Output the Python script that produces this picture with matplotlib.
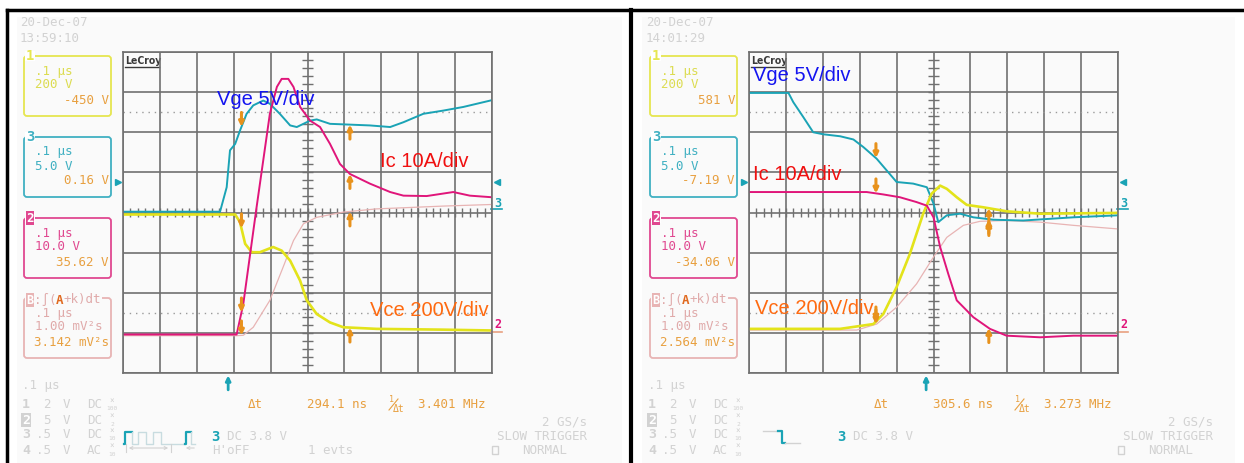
import matplotlib.pyplot as plt
import numpy as np
from matplotlib.patches import FancyBboxPatch, Rectangle

# ---- data (x in divisions of 0.1 us, y in screen divisions) ----
# turn-on screen (left)
on_vge_x = [0, 2.63, 2.81, 2.90, 3.04, 3.17, 3.35, 3.53, 3.80, 3.98, 4.25, 4.53, 4.71, 5.07, 5.25, 5.61, 6.15, 6.69, 7.24, 7.60, 8.14, 8.68, 9.22, 10.0]
on_vge_y = [0.02, 0.02, 0.63, 1.55, 1.71, 2.04, 2.46, 2.67, 2.79, 2.71, 2.46, 2.17, 2.13, 2.29, 2.32, 2.21, 2.19, 2.17, 2.13, 2.25, 2.46, 2.54, 2.63, 2.80]
on_ic_x = [0, 3.08, 3.26, 3.62, 3.98, 4.17, 4.30, 4.48, 4.62, 4.80, 5.07, 5.34, 5.61, 5.88, 6.15, 6.69, 7.24, 7.60, 8.23, 8.95, 9.40, 10.0]
on_ic_y = [-3.04, -3.04, -2.28, 0.13, 2.46, 3.13, 3.33, 3.33, 3.13, 2.63, 2.29, 2.13, 1.71, 1.21, 0.96, 0.72, 0.51, 0.42, 0.41, 0.51, 0.42, 0.38]
on_vce_x = [0, 3.04, 3.17, 3.31, 3.49, 3.71, 4.07, 4.30, 4.53, 4.80, 4.98, 5.25, 5.61, 5.97, 6.87, 8.68, 10.0]
on_vce_y = [-0.05, -0.05, -0.24, -0.78, -0.99, -0.99, -0.86, -0.95, -1.20, -1.70, -2.19, -2.53, -2.74, -2.86, -2.90, -2.92, -2.94]
on_e_x = [0, 3.08, 3.26, 3.53, 3.98, 4.34, 4.62, 4.89, 5.25, 5.97, 6.87, 8.68, 10.0]
on_e_y = [-3.07, -3.07, -3.06, -2.86, -2.19, -1.36, -0.70, -0.28, -0.12, 0.01, 0.09, 0.16, 0.20]

# turn-off screen (right)
off_vge_x = [0, 1.07, 1.20, 1.47, 1.74, 2.01, 2.47, 2.83, 3.10, 3.46, 3.73, 4.00, 4.45, 4.82, 5.00, 5.13, 5.36, 5.72, 6.08, 6.62, 7.43, 8.79, 10.0]
off_vge_y = [2.98, 2.98, 2.75, 2.38, 2.00, 1.95, 1.90, 1.82, 1.63, 1.34, 1.05, 0.76, 0.72, 0.63, 0.22, -0.24, -0.07, -0.03, -0.12, -0.18, -0.20, -0.12, -0.07]
off_ic_x = [0, 3.19, 3.64, 4.09, 4.54, 4.82, 5.00, 5.18, 5.40, 5.63, 6.08, 6.53, 6.98, 7.89, 8.79, 10.0]
off_ic_y = [0.51, 0.51, 0.45, 0.38, 0.26, 0.17, -0.12, -0.86, -1.53, -2.19, -2.61, -2.90, -3.07, -3.11, -3.07, -3.07]
off_vce_x = [0, 2.47, 3.37, 3.64, 4.00, 4.36, 4.72, 4.95, 5.18, 5.36, 5.63, 5.90, 6.35, 6.98, 7.89, 10.0]
off_vce_y = [-2.90, -2.90, -2.78, -2.53, -1.86, -1.03, -0.03, 0.47, 0.67, 0.59, 0.38, 0.19, 0.13, 0.03, -0.03, -0.01]
off_e_x = [0, 2.92, 3.46, 4.00, 4.54, 5.00, 5.36, 5.81, 6.26, 6.98, 7.89, 8.79, 10.0]
off_e_y = [-2.93, -2.93, -2.78, -2.36, -1.78, -1.11, -0.62, -0.32, -0.22, -0.20, -0.24, -0.32, -0.41]

on_cursors = [3.21, 6.15]
off_cursors = [3.44, 6.50]
on_trigger = 2.85
off_trigger = 4.80
trig_level = 0.75

on_time = ['20-Dec-07', '13:59:10']
off_time = ['20-Dec-07', '14:01:29']
on_values = ['-450 V', '0.16 V', '35.62 V', '3.142 mV²s']
off_values = ['581 V', '-7.19 V', '-34.06 V', '2.564 mV²s']
on_dt = ['294.1 ns', '3.401 MHz']
off_dt = ['305.6 ns', '3.273 MHz']
ch_setup = [('1', '2', 'DC', '100'), ('2', '5', 'DC', '2'), ('3', '.5', 'DC', '10'), ('4', '.5', 'AC', '10')]

# labels: (text, x, y, colour) in divisions
on_labels = [('Vge 5V/div', 2.54, 2.68, '#1414F0'), ('Ic 10A/div', 6.96, 1.13, '#F01010'), ('Vce 200V/div', 6.69, -2.57, '#FF6A10')]
off_labels = [('Vge 5V/div', 0.11, 3.27, '#1414F0'), ('Ic 10A/div', 0.11, 0.82, '#F01010'), ('Vce 200V/div', 0.16, -2.54, '#FF6A10')]

# colours
C_VGE = '#1AA3B5'
C_IC = '#E0157A'
C_VCE = '#E3E31A'
C_E = '#E8B4B4'
C_ORG = '#E8A040'
C_ARR = '#E8921C'
C_GRAY = '#D2D2D2'
C_GRID = '#707070'
MONO = 'DejaVu Sans Mono'

W, H = 1244, 463
fig = plt.figure(figsize=(W / 100, H / 100), dpi=100)
bg = fig.add_axes([0, 0, 1, 1])
bg.set_xlim(0, W)
bg.set_ylim(H, 0)
bg.axis('off')

# screens and black frame
bg.add_patch(Rectangle((17, 17), 605, 446, fc='#FAFAFA', ec='none'))
bg.add_patch(Rectangle((642, 17), 593, 446, fc='#FAFAFA', ec='none'))
bg.plot([7, W], [10, 10], color='k', lw=2.5)
bg.plot([7, 7], [10, H], color='k', lw=2.5)
bg.plot([631, 631], [10, H], color='k', lw=3)


def txt(x, y, s, color=C_GRAY, size=9, **kw):
    kw.setdefault('ha', 'left')
    kw.setdefault('va', 'center')
    bg.text(x, y, s, color=color, fontsize=size, family=MONO, **kw)


def readout_box(dx, top, ec, label, lines, tcol, value, inverted=False):
    bg.add_patch(FancyBboxPatch((dx + 27, top + 3), 81, 54, boxstyle='round,pad=3',
                                ec=ec, fc='none', lw=1.3))
    if label is not None:
        bg.add_patch(Rectangle((dx + 25, top - 5), 10, 10, fc='white', ec='none'))
        if inverted:
            bg.text(dx + 30, top, label, color='white', fontsize=9, family=MONO,
                    weight='bold', ha='center', va='center',
                    bbox=dict(boxstyle='square,pad=0.05', fc=ec, ec='none'))
        else:
            bg.text(dx + 30, top, label, color=ec, fontsize=10, family=MONO,
                    weight='bold', ha='center', va='center')
    txt(dx + 35, top + 15, lines[0], tcol)
    txt(dx + 35, top + 29, lines[1], tcol)
    txt(dx + 109, top + 44, value, C_ORG, ha='right')


def draw_panel(dx, traces, cursors, trigger, labels, stamp, values, dt, left_pulse):
    ax = fig.add_axes([(123 + dx) / W, (H - 373) / H, 369 / W, 321 / H])
    ax.patch.set_alpha(0)
    ax.set_xlim(0, 10)
    ax.set_ylim(-4, 4)
    ax.set_xticks(np.arange(11))
    ax.set_yticks(np.arange(-4, 5))
    ax.tick_params(length=0, labelbottom=False, labelleft=False)
    ax.grid(True, color=C_GRID, lw=1.2)
    for sp in ax.spines.values():
        sp.set_color(C_GRID)
        sp.set_linewidth(1.2)
    # centre cross ticks and reference dotted lines
    ax.vlines(np.arange(0.2, 10, 0.2), -0.1, 0.1, color=C_GRID, lw=1)
    ax.hlines(np.arange(-3.8, 4, 0.2), 4.86, 5.14, color=C_GRID, lw=1)
    for yy in (2.5, -2.5):
        ax.axhline(yy, color='#9A9A9A', lw=1, ls=(0, (1, 3.5)))

    # traces
    for (xs, ys), col, lw in zip(traces, [C_E, C_VGE, C_VCE, C_IC], [0.9, 1.4, 1.9, 1.4]):
        ax.plot(xs, ys, color=col, lw=lw, solid_joinstyle='round')

    # cursor arrows on each trace
    for i, cx in enumerate(cursors):
        for xs, ys in traces:
            yv = np.interp(cx, xs, ys)
            tail = yv + 0.36 if i == 0 else yv - 0.36
            ax.annotate('', xy=(cx, yv), xytext=(cx, tail),
                        arrowprops=dict(arrowstyle='-|>', color=C_ARR, lw=2.2,
                                        mutation_scale=7, shrinkA=0, shrinkB=0))

    # trigger markers
    ax.annotate('', xy=(trigger, -4.06), xytext=(trigger, -4.42), annotation_clip=False,
                arrowprops=dict(arrowstyle='-|>', color=C_VGE, lw=2, mutation_scale=7,
                                shrinkA=0, shrinkB=0))
    ax.plot(-0.13, trig_level, marker='>', ms=5, color=C_VGE, clip_on=False)
    ax.plot(10.13, trig_level, marker='<', ms=5, color=C_VGE, clip_on=False)
    ax.text(10.16, 0.22, '3', color=C_VGE, fontsize=8.5, family=MONO, weight='bold',
            ha='center', va='center', clip_on=False)
    ax.plot([9.98, 10.28], [0.08, 0.08], color=C_VGE, lw=1.2, clip_on=False)
    ax.text(10.16, -2.78, '2', color=C_IC, fontsize=8.5, family=MONO, weight='bold',
            ha='center', va='center', clip_on=False)
    ax.plot([9.98, 10.28], [-2.97, -2.97], color='#E8A080', lw=1.2, clip_on=False)

    # trace labels
    for s, x, y, col in labels:
        ax.text(x, y, s, color=col, fontsize=14.5, family='Liberation Sans',
                va='baseline', ha='left', clip_on=False)

    # LeCroy logo
    bg.text(dx + 125, 61, 'LeCroy', color='#3A3A3A', fontsize=7.5, family='DejaVu Sans',
            fontstretch='condensed', weight='bold', ha='left', va='center')
    bg.plot([dx + 125, dx + 159], [67, 67], color='#3A3A3A', lw=1)

    # date / time
    txt(dx + 20, 23, stamp[0])
    txt(dx + 20, 38, stamp[1])

    # channel readout boxes
    readout_box(dx, 56, '#E6E650', '1', ['.1 μs', '200 V'], '#DCDC50', values[0])
    readout_box(dx, 137, '#40B0C2', '3', ['.1 μs', '5.0 V'], '#40B0C2', values[1])
    readout_box(dx, 218, '#E04890', '2', ['.1 μs', '10.0 V'], '#E04890', values[2], inverted=True)
    readout_box(dx, 298, C_E, None, ['.1 μs', '1.00 mV²s'], '#E0AAAA', values[3])
    bg.add_patch(Rectangle((dx + 25, 293), 77, 13, fc='#FAFAFA', ec='none'))
    bg.text(dx + 30, 300, 'B', color='white', fontsize=8.5, family=MONO, weight='bold',
            ha='center', va='center', bbox=dict(boxstyle='square,pad=0.05', fc=C_E, ec='none'))
    txt(dx + 34, 300, ':∫(', '#E0AAAA')
    txt(dx + 56, 300, 'A', '#E06A20', weight='bold')
    txt(dx + 63, 300, '+k)dt', '#E0AAAA')

    # bottom channel settings
    txt(dx + 22, 385, '.1 μs')
    for i, (num, val, cpl, att) in enumerate(ch_setup):
        y = 405 + 15 * i
        if i == 1:
            bg.text(dx + 26, y, num, color='white', fontsize=9.5, family=MONO, weight='bold',
                    ha='center', va='center',
                    bbox=dict(boxstyle='square,pad=0.05', fc=C_GRAY, ec='none'))
        else:
            txt(dx + 26, y, num, size=9.5, ha='center', weight='bold')
        txt(dx + 51, y, val, ha='right')
        txt(dx + 63, y, 'V')
        txt(dx + 87, y, cpl)
        txt(dx + 112, y - 4, '×', size=5.5, ha='center')
        txt(dx + 112, y + 4, att, size=4.5, ha='center')

    # delta-t readout
    txt(dx + 248, 405, 'Δt', C_ORG)
    txt(dx + 307, 405, dt[0], C_ORG)
    txt(dx + 389, 400, '1', C_ORG, size=6)
    bg.plot([dx + 389, dx + 398], [410, 399], color=C_ORG, lw=0.8)
    txt(dx + 393, 409, 'Δt', C_ORG, size=7)
    txt(dx + 418, 405, dt[1], C_ORG)
    txt(dx + 587, 422, '2 GS/s', ha='right')
    txt(dx + 587, 436, 'SLOW TRIGGER', ha='right')
    bg.add_patch(Rectangle((dx + 492, 446), 6, 8, fc='none', ec=C_GRAY, lw=1))
    txt(dx + 522, 450, 'NORMAL')

    # trigger pattern
    if left_pulse:
        bg.plot([124, 125, 125, 132], [444, 444, 432, 432], color=C_VGE, lw=1.6)
        bg.plot([132, 132, 138, 138, 146, 146, 153, 153, 161, 161, 185],
                [432, 444, 444, 432, 432, 444, 444, 432, 432, 444, 444], color='#C8DCE0', lw=1)
        bg.plot([185, 186, 186, 191], [444, 444, 432, 432], color=C_VGE, lw=1.6)
        bg.plot([191, 191, 195], [432, 444, 444], color='#C8DCE0', lw=1)
        bg.annotate('', xy=(126, 448), xytext=(171, 448),
                    arrowprops=dict(arrowstyle='<->', color=C_GRAY, lw=0.8, mutation_scale=5))
        bg.plot([126, 126], [444, 452], color=C_GRAY, lw=0.8)
        bg.plot([171, 171], [444, 452], color=C_GRAY, lw=0.8)
        bg.annotate('', xy=(183, 448), xytext=(197, 448),
                    arrowprops=dict(arrowstyle='->', color=C_GRAY, lw=0.8, mutation_scale=5))
        bg.text(215, 437, '3', color=C_VGE, fontsize=10, family=MONO, weight='bold',
                ha='center', va='center')
        txt(227, 437, 'DC 3.8 V')
        txt(212, 451, "H'oFF")
        txt(308, 451, '1 evts')
    else:
        bg.plot([dx + 137, dx + 154], [431, 431], color=C_GRAY, lw=1)
        bg.plot([dx + 152, dx + 156, dx + 156, dx + 159], [431, 431, 443, 443], color=C_VGE, lw=1.6)
        bg.plot([dx + 159, dx + 174], [443, 443], color=C_GRAY, lw=1)
        bg.text(dx + 215, 437, '3', color=C_VGE, fontsize=10, family=MONO, weight='bold',
                ha='center', va='center')
        txt(dx + 227, 437, 'DC 3.8 V')


on_traces = [(on_e_x, on_e_y), (on_vge_x, on_vge_y), (on_vce_x, on_vce_y), (on_ic_x, on_ic_y)]
off_traces = [(off_e_x, off_e_y), (off_vge_x, off_vge_y), (off_vce_x, off_vce_y), (off_ic_x, off_ic_y)]

draw_panel(0, on_traces, on_cursors, on_trigger, on_labels, on_time, on_values, on_dt, True)
draw_panel(626, off_traces, off_cursors, off_trigger, off_labels, off_time, off_values, off_dt, False)

fig.savefig('out.png', dpi=100, facecolor='white')
